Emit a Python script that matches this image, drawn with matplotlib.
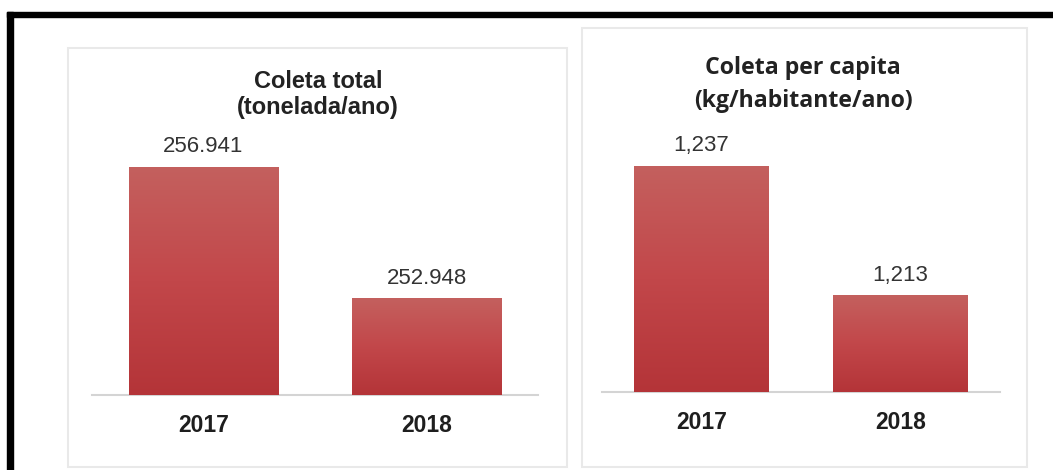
import numpy as np
import matplotlib.pyplot as plt
from matplotlib.patches import Rectangle
from matplotlib.colors import LinearSegmentedColormap

W, H = 1053, 470

years = ['2017', '2018']
coleta_total = [256.941, 252.948]
coleta_total_labels = ['256.941', '252.948']
per_capita = [1.237, 1.213]
per_capita_labels = ['1,237', '1,213']

# red bars, lighter at the top
bar_cmap = LinearSegmentedColormap.from_list('bar', ['#b43438', '#c2474a', '#c4605e'])


def px_rect(x0, y0, x1, y1):
    '''Pixel box (from top-left) -> figure fraction [l, b, w, h].'''
    return [x0 / W, 1 - y1 / H, (x1 - x0) / W, (y1 - y0) / H]


def gradient_bars(ax, values, width):
    bars = ax.bar(range(len(values)), values, width=width, color='#c04a4a',
                  edgecolor='none', zorder=2)
    grad = np.linspace(0, 1, 256).reshape(-1, 1)
    bottom = ax.get_ylim()[0]
    for b in bars:
        x0 = b.get_x()
        im = ax.imshow(grad, cmap=bar_cmap, origin='lower', aspect='auto',
                       extent=[x0, x0 + b.get_width(), bottom, b.get_height()],
                       zorder=3)
        im.set_clip_path(b)
    return bars


def setup(ax, ylim):
    ax.set_xlim(-0.5, 1.5)
    ax.set_ylim(*ylim)
    for s in ['top', 'right', 'left']:
        ax.spines[s].set_visible(False)
    ax.spines['bottom'].set_color('#d4d4d4')
    ax.spines['bottom'].set_linewidth(1.5)
    ax.set_yticks([])
    ax.set_xticks(range(len(years)))
    ax.set_xticklabels(years, fontsize=16.5, fontweight='bold',
                       family='Liberation Sans', color='#1e1e1e')
    ax.tick_params(axis='x', length=0, pad=14)
    ax.patch.set_alpha(0)


fig = plt.figure(figsize=(W / 100, H / 100), dpi=100)

# outer black frame (left and top only)
fig.patches.append(Rectangle((7 / W, 0), 6 / W, 1 - 12 / H,
                             transform=fig.transFigure, color='black', zorder=-1))
fig.patches.append(Rectangle((7 / W, 1 - 17 / H), 1 - 7 / W, 5 / H,
                             transform=fig.transFigure, color='black', zorder=-1))

# panel boxes
for x0, y0, x1, y1 in [(68, 48, 567, 467), (582, 28, 1027, 467)]:
    l, b, w, h = px_rect(x0, y0, x1, y1)
    fig.patches.append(Rectangle((l, b), w, h, transform=fig.transFigure,
                                 facecolor='white', edgecolor='#e9e9e9', lw=1.5,
                                 zorder=-1))

# left panel
ax1 = fig.add_axes(px_rect(92, 60, 538, 395))
setup(ax1, (250.0, 260.2))
gradient_bars(ax1, coleta_total, 0.67)
for i, (v, t) in enumerate(zip(coleta_total, coleta_total_labels)):
    ax1.annotate(t, (i, v), xytext=(0, 10.5), textcoords='offset points',
                 ha='center', va='baseline', fontsize=16,
                 family='Liberation Sans', color='#333333')

fig.text(318 / W, 1 - 88 / H, 'Coleta total', ha='center', va='baseline',
         fontsize=17, fontweight='bold', family='Liberation Sans', color='#222222')
fig.text(318 / W, 1 - 114 / H, '(tonelada/ano)', ha='center', va='baseline',
         fontsize=17, fontweight='bold', family='Liberation Sans', color='#222222')

# right panel
ax2 = fig.add_axes(px_rect(602, 60, 1000, 392))
setup(ax2, (1.195, 1.2567))
gradient_bars(ax2, per_capita, 0.675)
for i, (v, t) in enumerate(zip(per_capita, per_capita_labels)):
    ax2.annotate(t, (i, v), xytext=(0, 10.5), textcoords='offset points',
                 ha='center', va='baseline', fontsize=16,
                 family='Liberation Sans', color='#333333')

fig.text(803 / W, 1 - 74 / H, 'Coleta per capita', ha='center', va='baseline',
         fontsize=16.7, fontweight='bold', family='Open Sans', color='#222222')
fig.text(803 / W, 1 - 107 / H, '(kg/habitante/ano)', ha='center', va='baseline',
         fontsize=16.7, fontweight='bold', family='Open Sans', color='#222222')

fig.savefig('out.png', dpi=100)
